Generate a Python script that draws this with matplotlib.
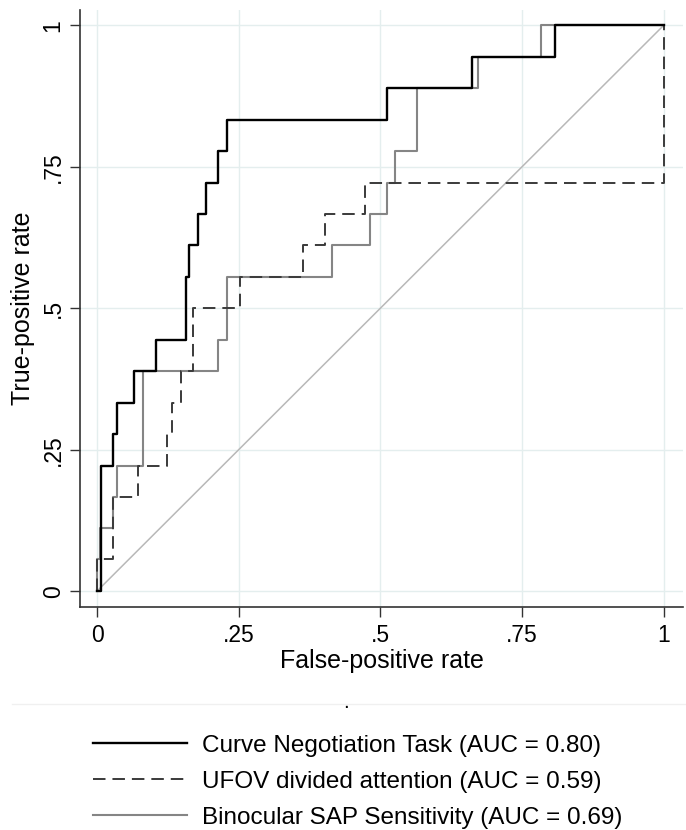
import matplotlib
matplotlib.use("Agg")
import matplotlib.pyplot as plt
from matplotlib.lines import Line2D

plt.rcParams['font.family'] = ['Liberation Sans', 'DejaVu Sans']
plt.rcParams['lines.scale_dashes'] = False

# ROC step points (fpr, tpr)
cnt_fpr = [0, 0.0065, 0.029, 0.036, 0.066, 0.104, 0.157, 0.163, 0.178, 0.193, 0.214, 0.229, 0.511, 0.661, 0.808, 1.0]
cnt_tpr = [0, 0.222, 0.278, 0.333, 0.389, 0.444, 0.556, 0.611, 0.667, 0.722, 0.778, 0.833, 0.889, 0.944, 1.0, 1.0]

ufov_fpr = [0, 0, 0.029, 0.073, 0.123, 0.133, 0.148, 0.17, 0.252, 0.363, 0.402, 0.473, 1.0]
ufov_tpr = [0, 0.056, 0.167, 0.222, 0.278, 0.333, 0.389, 0.5, 0.556, 0.611, 0.667, 0.722, 1.0]

sap_fpr = [0, 0, 0.006, 0.029, 0.036, 0.082, 0.214, 0.229, 0.414, 0.481, 0.511, 0.526, 0.564, 0.672, 0.784, 1.0]
sap_tpr = [0, 0.056, 0.111, 0.167, 0.222, 0.389, 0.444, 0.556, 0.611, 0.667, 0.722, 0.778, 0.889, 0.944, 1.0, 1.0]

labels = ["Curve Negotiation Task (AUC = 0.80)",
          "UFOV divided attention (AUC = 0.59)",
          "Binocular SAP Sensitivity (AUC = 0.69)"]
ticks = [0, 0.25, 0.5, 0.75, 1]
tick_labels = ["0", ".25", ".5", ".75", "1"]

W, H = 686, 830
fig = plt.figure(figsize=(W / 100, H / 100), dpi=100)
ax = fig.add_axes([80 / W, 1 - 607 / H, 603 / W, 597 / H])

grid_c = "#e4eeee"
for t in ticks:
    ax.axhline(t, color=grid_c, lw=1, zorder=0)
    ax.axvline(t, color=grid_c, lw=1, zorder=0)

ax.plot([0, 1], [0, 1], color="#b8b8b8", lw=1.1, zorder=1)
l3, = ax.plot(sap_fpr, sap_tpr, drawstyle="steps-post", color="#858585", lw=1.5, zorder=2)
l2, = ax.plot(ufov_fpr, ufov_tpr, drawstyle="steps-post", color="#3a3a3a", lw=1.4,
              dashes=(9, 5), zorder=3)
l1, = ax.plot(cnt_fpr, cnt_tpr, drawstyle="steps-post", color="black", lw=1.7, zorder=4)

ax.set_xlim(-0.03, 1.034)
ax.set_ylim(-0.028, 1.027)
ax.set_xticks(ticks)
ax.set_xticklabels(tick_labels)
ax.set_yticks(ticks)
ax.set_yticklabels(tick_labels, rotation=90, va="center")
ax.tick_params(direction="out", length=7, width=1, color="#333333", labelsize=16.5, pad=5)
ax.tick_params(axis="y", pad=4)
for s in ["top", "right"]:
    ax.spines[s].set_visible(False)
for s in ["left", "bottom"]:
    ax.spines[s].set_color("#333333")
    ax.spines[s].set_linewidth(1.2)

ax.set_xlabel("False-positive rate", fontsize=18, labelpad=2)
ax.set_ylabel("True-positive rate", fontsize=18, labelpad=5)

# faint separator and stray dot above legend
fig.add_artist(Line2D([12 / W, 1], [1 - 704 / H, 1 - 704 / H], color="#f0f0f0", lw=1))
fig.text(346 / W, 1 - 708 / H, ".", fontsize=15, ha="center", va="baseline")

fig.legend([l1, l2, l3], labels, loc="upper left", bbox_to_anchor=(83 / W, 1 - 725 / H),
           frameon=False, fontsize=17.5, handlelength=3.87, handletextpad=0.62,
           labelspacing=0.58, borderaxespad=0)

fig.savefig("out.png", dpi=100)
